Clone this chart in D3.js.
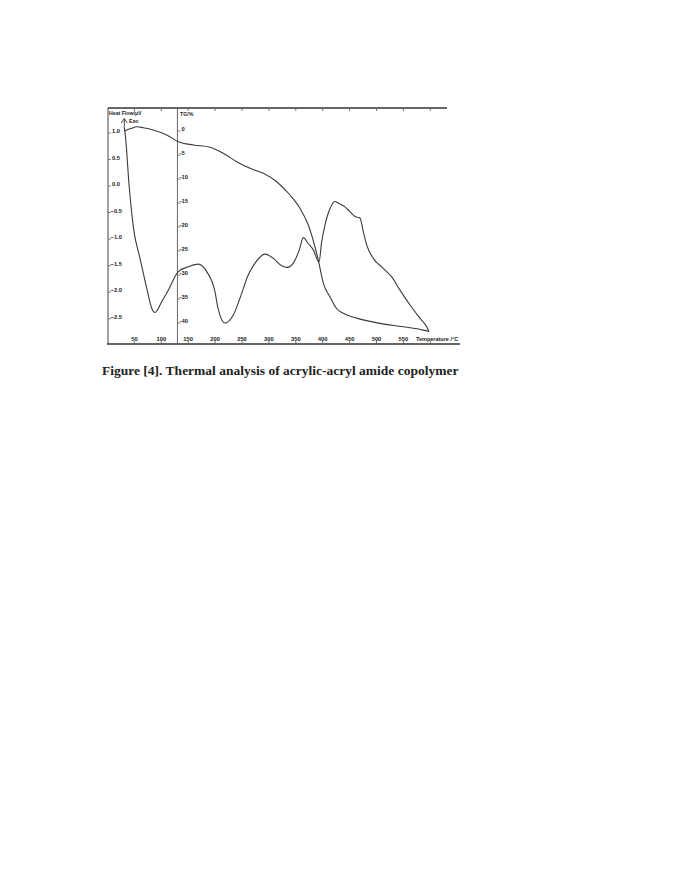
<!DOCTYPE html>
<html>
<head>
<meta charset="utf-8">
<script src="https://cdn.jsdelivr.net/npm/d3@7"></script>
<style>
  body { margin: 0; background: #fff; }
  svg text { fill: #222; }
</style>
</head>
<body>
<div id="chart"></div>
<script>
// temperature (°C) and heat flow (µV)
const dscTemp = [31.2, 32.5, 40.5, 48.3, 60.4, 72.9, 82.2, 88.3, 100.7, 113.0, 131.6, 150.2, 168.8, 184.4, 199.8, 205.4,
  218.4, 233.8, 246.3, 261.7, 274.2, 292.8, 308.2, 323.8, 334.2, 345.4, 356.5, 364.0, 373.2, 382.5, 393.1,
  398.1, 404.3, 413.6, 422.9, 429.0, 441.4, 450.7, 460.0, 469.3, 475.5, 481.8, 494.1, 512.6, 528.3, 543.7,
  562.3, 580.9, 593.3, 597.6];
const dscHeat = [1.06, 0.98, -0.07, -0.83, -1.40, -1.96, -2.34, -2.42, -2.22, -2.00, -1.65, -1.56, -1.51, -1.65, -2.03, -2.34,
  -2.62, -2.47, -2.15, -1.71, -1.49, -1.32, -1.40, -1.54, -1.57, -1.49, -1.24, -1.01, -1.12, -1.24, -1.47,
  -1.09, -0.77, -0.46, -0.33, -0.36, -0.43, -0.52, -0.61, -0.64, -0.90, -1.15, -1.40, -1.59, -1.75, -2.00,
  -2.28, -2.53, -2.69, -2.78];

// temperature (°C) and mass change (%)
const tgTemp = [31.2, 45.0, 54.3, 66.5, 85.1, 110.0, 131.6, 159.5, 190.5, 215.2, 240.1, 264.9, 289.6, 314.5, 339.2,
  357.8, 373.2, 391.8, 401.1, 413.6, 426.6, 438.3, 463.2, 506.5, 549.8, 587.0, 597.6];
const tgMass = [-0.42, 0.15, 0.48, 0.27, -0.21, -1.25, -2.65, -3.33, -3.79, -5.06, -6.81, -8.19, -9.23, -10.98, -13.75,
  -16.52, -20.0, -27.3, -32.1, -35.0, -37.5, -38.4, -39.4, -40.5, -41.2, -41.9, -42.2];

const tempTicks = [50, 100, 150, 200, 250, 300, 350, 400, 450, 500, 550];
const heatTicks = [1.0, 0.5, 0.0, -0.5, -1.0, -1.5, -2.0, -2.5];
const massTicks = [0, -5, -10, -15, -20, -25, -30, -35, -40];
const dividerTemp = 130;

const width = 685, height = 886;
const frame = {left: 108, top: 108, right: 447, bottom: 344};

const svg = d3.select("#chart").append("svg")
  .attr("width", width)
  .attr("height", height);

let x = d3.scaleLinear().domain([0, 600]).range([107.5, 430.3]);
let yHeat = d3.scaleLinear().domain([-2.5, 1.0]).range([316.7, 131]);
let yMass = d3.scaleLinear().domain([-40, 0]).range([321, 129]);

// frame
svg.append("line")
  .attr("x1", frame.left).attr("x2", frame.right)
  .attr("y1", frame.top).attr("y2", frame.top)
  .attr("stroke", "#333").attr("stroke-width", 1.6);
svg.append("line")
  .attr("x1", frame.left).attr("x2", frame.left)
  .attr("y1", frame.top).attr("y2", frame.bottom)
  .attr("stroke", "#444").attr("stroke-width", 1);
svg.append("line")
  .attr("x1", frame.left - 1).attr("x2", 460)
  .attr("y1", frame.bottom).attr("y2", frame.bottom)
  .attr("stroke", "#333").attr("stroke-width", 1.3);

// divider between the two y scales
svg.append("line")
  .attr("x1", x(dividerTemp)).attr("x2", x(dividerTemp))
  .attr("y1", frame.top).attr("y2", frame.bottom)
  .attr("stroke", "#555").attr("stroke-width", 0.9);

// top ticks
svg.selectAll(".topTick").data(tempTicks.concat([600]))
  .enter().append("line")
  .attr("x1", d => x(d)).attr("x2", d => x(d))
  .attr("y1", frame.top).attr("y2", frame.top + 3)
  .attr("stroke", "#555").attr("stroke-width", 0.8);

// bottom ticks and labels
svg.selectAll(".botTick").data(tempTicks.concat([600]))
  .enter().append("line")
  .attr("x1", d => x(d)).attr("x2", d => x(d))
  .attr("y1", frame.bottom - 3).attr("y2", frame.bottom)
  .attr("stroke", "#555").attr("stroke-width", 0.8);

svg.selectAll(".xLabel").data(tempTicks)
  .enter().append("text")
  .attr("x", d => x(d))
  .attr("y", frame.bottom - 3)
  .attr("text-anchor", "middle")
  .style("font-family", "Liberation Sans, Arial, sans-serif")
  .style("font-weight", "bold")
  .style("font-size", "5.8px")
  .text(d => d);

svg.append("text")
  .attr("x", 416)
  .attr("y", frame.bottom - 3)
  .style("font-family", "Liberation Sans, Arial, sans-serif")
  .style("font-weight", "bold")
  .style("font-size", "5.5px")
  .text("Temperature /°C");

// heat flow axis labels
svg.selectAll(".heatTick").data(heatTicks)
  .enter().append("line")
  .attr("x1", frame.left).attr("x2", frame.left + 3)
  .attr("y1", d => yHeat(d) + 2).attr("y2", d => yHeat(d) + 2)
  .attr("stroke", "#555").attr("stroke-width", 0.7);

svg.selectAll(".heatLabel").data(heatTicks)
  .enter().append("text")
  .attr("x", d => d < 0 ? 110.5 : 112)
  .attr("y", d => yHeat(d) + 2)
  .style("font-family", "Liberation Sans, Arial, sans-serif")
  .style("font-weight", "bold")
  .style("font-size", "5.8px")
  .text(d => d3.format(".1f")(d));

svg.append("text")
  .attr("x", 109)
  .attr("y", 115)
  .style("font-family", "Liberation Sans, Arial, sans-serif")
  .style("font-weight", "bold")
  .style("font-size", "5.2px")
  .text("Heat Flow/µV");

// Exo arrow
svg.append("line")
  .attr("x1", 124.3).attr("x2", 124.3)
  .attr("y1", 119).attr("y2", 128)
  .attr("stroke", "#333").attr("stroke-width", 0.9);
svg.append("path")
  .attr("d", "M121.3,123 L124.3,118.5 L127.3,123")
  .attr("fill", "none").attr("stroke", "#333").attr("stroke-width", 0.9);
svg.append("text")
  .attr("x", 129)
  .attr("y", 123)
  .style("font-family", "Liberation Sans, Arial, sans-serif")
  .style("font-weight", "bold")
  .style("font-size", "5.2px")
  .text("Exo");

// TG axis labels
svg.selectAll(".massTick").data(massTicks)
  .enter().append("line")
  .attr("x1", x(dividerTemp)).attr("x2", x(dividerTemp) + 3)
  .attr("y1", d => yMass(d) + 2).attr("y2", d => yMass(d) + 2)
  .attr("stroke", "#555").attr("stroke-width", 0.7);

svg.selectAll(".massLabel").data(massTicks)
  .enter().append("text")
  .attr("x", d => d < 0 ? 179.5 : 181.5)
  .attr("y", d => yMass(d) + 2)
  .style("font-family", "Liberation Sans, Arial, sans-serif")
  .style("font-weight", "bold")
  .style("font-size", "5.8px")
  .text(d => d);

svg.append("text")
  .attr("x", 180)
  .attr("y", 116)
  .style("font-family", "Liberation Sans, Arial, sans-serif")
  .style("font-weight", "bold")
  .style("font-size", "5.2px")
  .text("TG/%");

// curves
let dscLine = d3.line()
  .x((d, i) => x(dscTemp[i]))
  .y(d => yHeat(d))
  .curve(d3.curveMonotoneX);

let tgLine = d3.line()
  .x((d, i) => x(tgTemp[i]))
  .y(d => yMass(d))
  .curve(d3.curveMonotoneX);

svg.append("path")
  .attr("d", dscLine(dscHeat))
  .attr("fill", "none")
  .attr("stroke", "#3a3a3a")
  .attr("stroke-width", 1.1);

svg.append("path")
  .attr("d", tgLine(tgMass))
  .attr("fill", "none")
  .attr("stroke", "#3a3a3a")
  .attr("stroke-width", 1.1);

// caption
svg.append("text")
  .attr("x", 102)
  .attr("y", 375)
  .style("font-family", "Liberation Serif, Times New Roman, serif")
  .style("font-weight", "bold")
  .style("font-size", "13.5px")
  .text("Figure [4]. Thermal analysis of acrylic-acryl amide copolymer");
</script>
</body>
</html>
